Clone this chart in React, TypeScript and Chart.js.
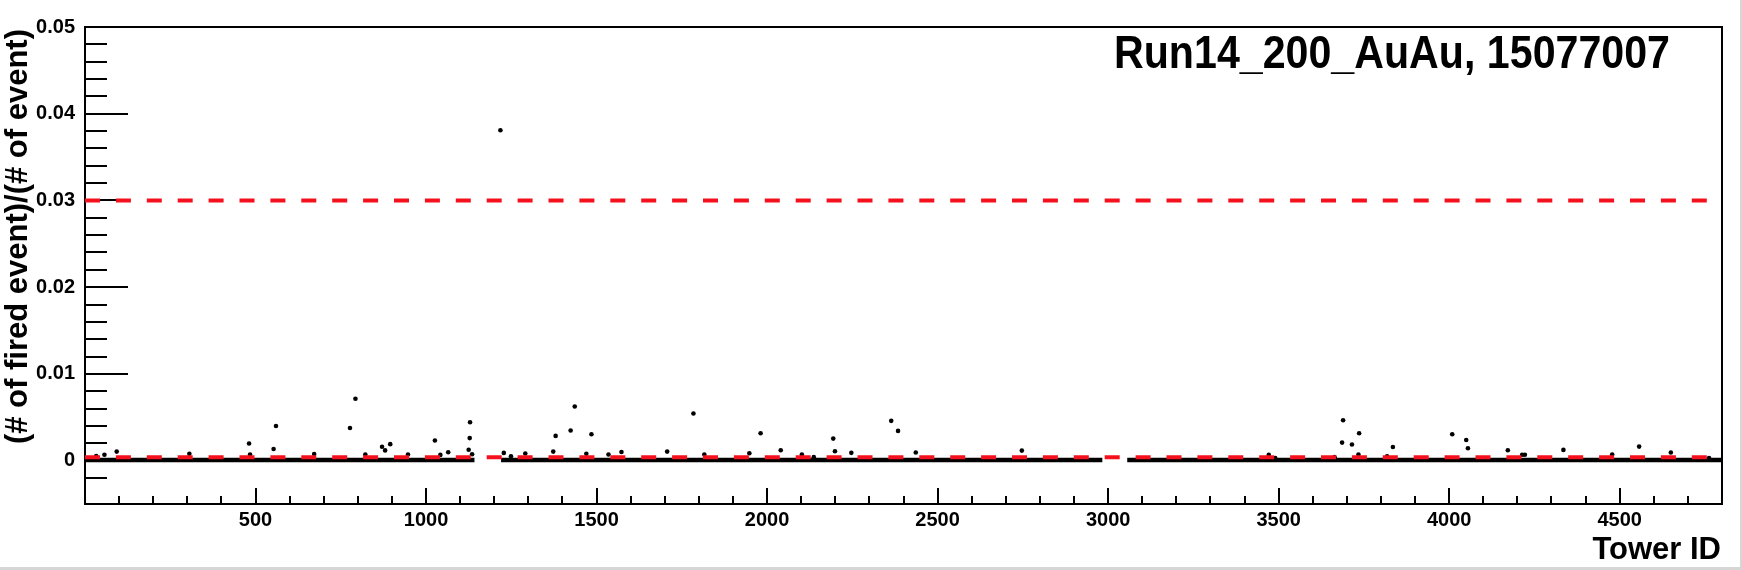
import React, { useEffect, useRef } from 'react';
import { Chart, registerables } from 'chart.js';

Chart.register(...registerables);

// ---------- text ----------
const TITLE = 'Run14_200_AuAu, 15077007';
const X_TITLE = 'Tower ID';
const Y_TITLE = '(# of fired event)/(# of event)';

// ---------- axes ----------
const X_MIN = 0;
const X_MAX = 4800;
const X_MINOR_STEP = 100;
const X_MAJOR_STEP = 500;
const Y_MIN = -0.005;
const Y_MAX = 0.05;
const Y_MINOR_STEP = 0.002;
const Y_MAJOR_STEP = 0.01;

// ---------- data: towers standing out from the band ----------
const towerIds = [
  33, 57, 93, 306, 481, 484, 553, 560, 672, 777, 793, 822, 871, 880, 895, 947,
  1026, 1042, 1065, 1125, 1128, 1129, 1135, 1218, 1228, 1249, 1291, 1373, 1380,
  1424, 1436, 1470, 1485, 1535, 1573, 1707, 1784, 1816, 1948, 1981, 2040, 2102,
  2137, 2194, 2199, 2247, 2364, 2384, 2436, 2747, 3471, 3490, 3664, 3686, 3689,
  3715, 3734, 3736, 3818, 3835, 4009, 4050, 4055, 4172, 4214, 4222, 4335, 4478,
  4557, 4650, 4762,
];
const firedRatio = [
  0.00054, 0.00068, 0.00104, 0.0008, 0.00197, 0.0007, 0.00135, 0.004, 0.00077,
  0.00376, 0.00713, 0.0007, 0.0016, 0.00118, 0.0019, 0.0007,
  0.00233, 0.00066, 0.00097, 0.00125, 0.0026, 0.00443, 0.00074, 0.0381, 0.00089,
  0.0005, 0.00082, 0.00104, 0.00285,
  0.00347, 0.00624, 0.0008, 0.00305, 0.0007, 0.001, 0.00104, 0.00543, 0.0007,
  0.00085, 0.00316, 0.0012, 0.0007,
  0.0004, 0.00254, 0.00108, 0.0009, 0.00459, 0.00343, 0.00093, 0.00116, 0.00066,
  0.0003, 0.0004, 0.00208, 0.00466,
  0.00186, 0.0007, 0.00316, 0.0005, 0.00158, 0.00305, 0.00238, 0.00143, 0.0012,
  0.00068, 0.00068, 0.00124, 0.0007,
  0.00162, 0.00094, 0.0003,
];

// ---------- data: dense band of ordinary towers ----------
const bandStarts = [0, 1220, 3056];
const bandEnds = [1142, 2983, 4800];
const bandLevel = 0.00008;

// ---------- data: cut lines ----------
const cutLevels = [0.03, 0.0004];

const RED = '#f5101e';
const FONT = '"Liberation Sans", Arial, Helvetica, sans-serif';

function isMultiple(v: number, step: number) {
  const k = Math.round(v / step);
  return Math.abs(v - k * step) < step * 1e-4;
}

const rootFramePlugin = {
  id: 'rootFrame',
  beforeDatasetsDraw(chart: any) {
    const { ctx, chartArea: a, scales } = chart;
    ctx.save();
    ctx.strokeStyle = '#000';
    ctx.lineWidth = 2;
    // y ticks (inward)
    const ys = scales.y;
    ys.ticks.forEach((t: any) => {
      const v = t.value;
      if (!isMultiple(v, Y_MINOR_STEP)) return;
      const major = isMultiple(v, Y_MAJOR_STEP);
      const py = Math.round(ys.getPixelForValue(v));
      ctx.beginPath();
      ctx.moveTo(a.left, py);
      ctx.lineTo(a.left + (major ? 43 : 22), py);
      ctx.stroke();
    });
    // x ticks (inward)
    const xs = scales.x;
    xs.ticks.forEach((t: any) => {
      const v = t.value;
      if (!isMultiple(v, X_MINOR_STEP) || v <= X_MIN || v >= X_MAX) return;
      const major = isMultiple(v, X_MAJOR_STEP);
      const px = Math.round(xs.getPixelForValue(v));
      ctx.beginPath();
      ctx.moveTo(px, a.bottom);
      ctx.lineTo(px, a.bottom - (major ? 16 : 8));
      ctx.stroke();
    });
    ctx.strokeRect(a.left, a.top, a.right - a.left, a.bottom - a.top);
    ctx.restore();
  },
  afterDraw(chart: any) {
    const { ctx, chartArea: a } = chart;
    ctx.save();
    ctx.fillStyle = '#000';
    // title
    ctx.font = `bold 46px ${FONT}`;
    ctx.textAlign = 'left';
    ctx.textBaseline = 'alphabetic';
    ctx.fillText(TITLE, a.right - 608, a.top + 41, 556);
    // x title
    ctx.font = `bold 31px ${FONT}`;
    ctx.textAlign = 'right';
    ctx.fillText(X_TITLE, a.right - 1, a.bottom + 55, 132);
    // y title
    ctx.translate(18.5, a.top + 2);
    ctx.rotate(-Math.PI / 2);
    ctx.textAlign = 'right';
    ctx.textBaseline = 'middle';
    ctx.fillText(Y_TITLE, 0, 0, 418);
    ctx.restore();
  },
};

export default function App() {
  const canvasRef = useRef<HTMLCanvasElement | null>(null);

  useEffect(() => {
    const canvas = canvasRef.current;
    if (!canvas) return;

    const outliers = towerIds.map((x, i) => ({ x, y: firedRatio[i] }));

    const band: { x: number; y: number | null }[] = [];
    bandStarts.forEach((s, i) => {
      band.push({ x: s, y: bandLevel });
      band.push({ x: bandEnds[i], y: bandLevel });
      if (i < bandStarts.length - 1) {
        band.push({ x: (bandEnds[i] + bandStarts[i + 1]) / 2, y: null });
      }
    });

    const cutDatasets = cutLevels.map((lvl) => ({
      data: [
        { x: X_MIN, y: lvl },
        { x: X_MAX, y: lvl },
      ],
      showLine: true,
      borderColor: RED,
      borderWidth: 4,
      borderDash: [15, 15.9],
      pointRadius: 0,
      fill: false,
    }));

    const chart = new Chart(canvas, {
      type: 'scatter',
      data: {
        datasets: [
          ...cutDatasets,
          {
            data: outliers,
            pointRadius: 2.3,
            pointBorderWidth: 0,
            pointBackgroundColor: '#000',
            borderColor: '#000',
            showLine: false,
          },
          {
            data: band,
            showLine: true,
            spanGaps: false,
            borderColor: '#000',
            borderWidth: 4.5,
            pointRadius: 0,
            fill: false,
          },
        ] as any,
      },
      options: {
        responsive: false,
        animation: false,
        devicePixelRatio: 1,
        events: [],
        layout: { padding: { top: 27, right: 18, left: 0, bottom: 0 } },
        plugins: {
          legend: { display: false },
          tooltip: { enabled: false },
          title: { display: false },
        },
        scales: {
          x: {
            type: 'linear',
            min: X_MIN,
            max: X_MAX,
            grid: { display: false, drawTicks: false },
            border: { display: false },
            afterFit: (s: any) => {
              s.height = 63;
            },
            ticks: {
              stepSize: X_MINOR_STEP,
              autoSkip: false,
              maxRotation: 0,
              padding: 4,
              color: '#000',
              font: { family: FONT, size: 20, weight: 'bold' },
              callback: (v: any) => {
                const n = Number(v);
                return n !== 0 && isMultiple(n, X_MAJOR_STEP) ? String(Math.round(n)) : '';
              },
            },
          },
          y: {
            type: 'linear',
            min: Y_MIN,
            max: Y_MAX,
            grid: { display: false, drawTicks: false },
            border: { display: false },
            afterFit: (s: any) => {
              s.width = 85;
            },
            ticks: {
              stepSize: Y_MINOR_STEP,
              autoSkip: false,
              padding: 10,
              color: '#000',
              font: { family: FONT, size: 20, weight: 'bold' },
              callback: (v: any) => {
                const n = Number(v);
                if (!isMultiple(n, Y_MAJOR_STEP)) return '';
                return String(Number(n.toFixed(3)));
              },
            },
          },
        },
      } as any,
      plugins: [rootFramePlugin],
    });

    return () => chart.destroy();
  }, []);

  return (
    <div
      style={{
        position: 'absolute',
        left: 0,
        top: 0,
        width: 1742,
        height: 570,
        background: '#d6d6d6',
      }}
    >
      <div style={{ position: 'absolute', left: 0, top: 0, width: 1740, height: 567, background: '#fff' }}>
        <canvas ref={canvasRef} width={1740} height={567} style={{ display: 'block' }} />
      </div>
    </div>
  );
}
